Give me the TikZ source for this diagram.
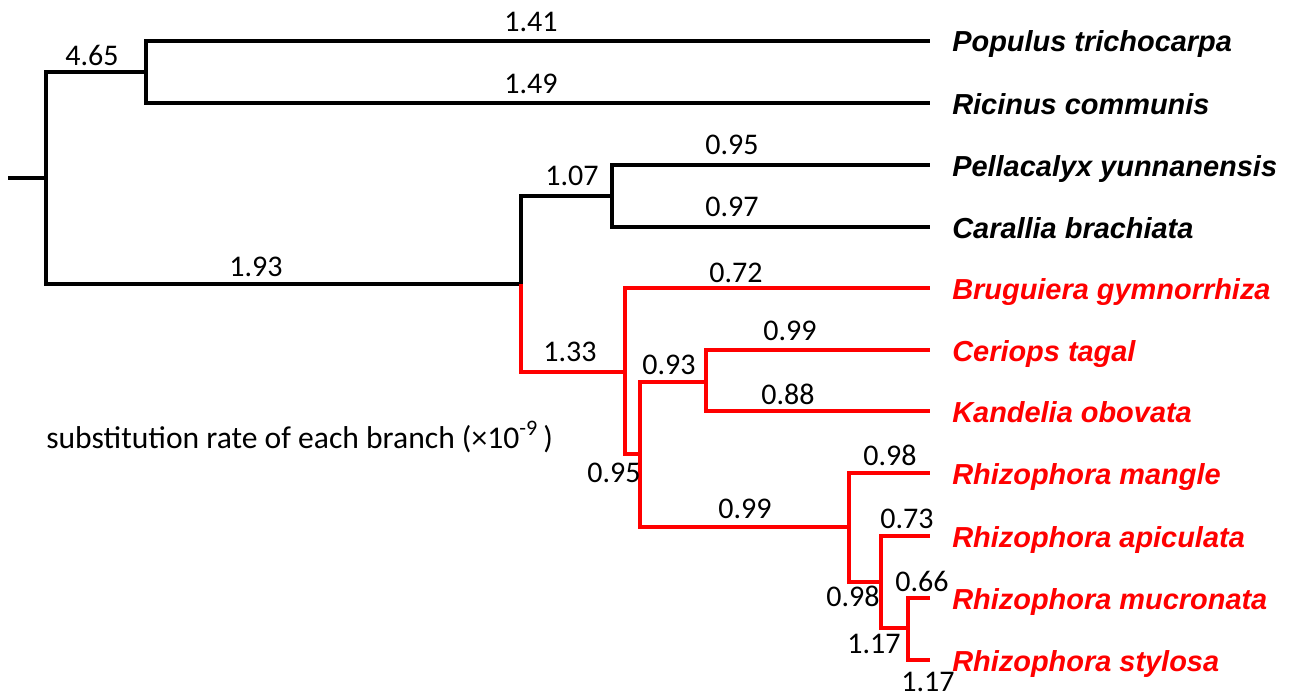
\documentclass[tikz,border=0pt]{standalone}
\usepackage{fontspec}
\newfontfamily\ratefont{Carlito}
\newfontfamily\taxfont{Liberation Sans}
\tikzset{branch/.style={line width=2.4pt, line join=miter},
	taxon/.style={anchor=west, font=\taxfont\bfseries\itshape\fontsize{21.7}{26}\selectfont, inner xsep=16.5pt, inner ysep=0pt, text height=16.5pt, text depth=0pt},
	rate/.style={font=\ratefont\fontsize{22.5}{27}\selectfont, inner sep=0pt, text height=14.2pt, text depth=0pt}}

\begin{document}
\begin{tikzpicture}[x=0.75pt, y=-0.75pt]
	\useasboundingbox (0,0) rectangle (1293,699);
	%Knoten
	\coordinate (stub) at (8,178);
	\coordinate (root) at (46,178);
	\coordinate (pr) at (146,72);
	\coordinate (rh) at (521,284);
	\coordinate (pc) at (612,196);
	\coordinate (mg) at (625,372);
	\coordinate (mk) at (640,454);
	\coordinate (ck) at (706,382);
	\coordinate (rz) at (849,527);
	\coordinate (rab) at (881,582);
	\coordinate (rms) at (908,628);
	%Taxa
	\node[taxon] (ptr) at (930,41) {Populus trichocarpa};
	\node[taxon] (rco) at (930,103) {Ricinus communis};
	\node[taxon] (pyu) at (930,165) {Pellacalyx yunnanensis};
	\node[taxon] (cbr) at (930,227) {Carallia brachiata};
	\node[taxon, red] (bgy) at (930,288) {Bruguiera gymnorrhiza};
	\node[taxon, red] (cta) at (930,350) {Ceriops tagal};
	\node[taxon, red] (kob) at (930,411) {Kandelia obovata};
	\node[taxon, red] (rma) at (930,473) {Rhizophora mangle};
	\node[taxon, red] (rap) at (930,536) {Rhizophora apiculata};
	\node[taxon, red] (rmu) at (930,598) {Rhizophora mucronata};
	\node[taxon, red] (rst) at (930,660) {Rhizophora stylosa};
	%Graph
	\draw[branch] (stub) -- (root);
	\draw[branch] (root) |- (pr);
	\draw[branch] (pr) |- (ptr.west);
	\draw[branch] (pr) |- (rco.west);
	\draw[branch] (root) |- (rh);
	\draw[branch] (rh) |- (pc);
	\draw[branch] (pc) |- (pyu.west);
	\draw[branch] (pc) |- (cbr.west);
	%Mangroven
	\draw[branch, red] (rh) |- (mg);
	\draw[branch, red] (mg) |- (bgy.west);
	\draw[branch, red] (mg) |- (mk);
	\draw[branch, red] (mk) |- (ck);
	\draw[branch, red] (ck) |- (cta.west);
	\draw[branch, red] (ck) |- (kob.west);
	\draw[branch, red] (mk) |- (rz);
	\draw[branch, red] (rz) |- (rma.west);
	\draw[branch, red] (rz) |- (rab);
	\draw[branch, red] (rab) |- (rap.west);
	\draw[branch, red] (rab) |- (rms);
	\draw[branch, red] (rms) |- (rmu.west);
	\draw[branch, red] (rms) |- (rst.west);
	%Raten
	\node[rate] (lpr) at (92,56) {4.65};
	\node[rate] (lptr) at (531,22) {1.41};
	\node[rate] (lrco) at (531,84) {1.49};
	\node[rate] (lrh) at (256,267) {1.93};
	\node[rate] (lpc) at (572,176) {1.07};
	\node[rate] (lpyu) at (732,145) {0.95};
	\node[rate] (lcbr) at (732,207) {0.97};
	\node[rate] (lmg) at (570,352) {1.33};
	\node[rate] (lbgy) at (736,273) {0.72};
	\node[rate] (lmk) at (614,473) {0.95};
	\node[rate] (lck) at (669,365) {0.93};
	\node[rate] (lcta) at (790,331) {0.99};
	\node[rate] (lkob) at (788,395) {0.88};
	\node[rate] (lrz) at (745,509) {0.99};
	\node[rate] (lrma) at (890,456) {0.98};
	\node[rate] (lrab) at (853,597) {0.98};
	\node[rate] (lrap) at (907,519) {0.73};
	\node[rate] (lrms) at (874,644) {1.17};
	\node[rate] (lrmu) at (922,582) {0.66};
	\node[rate] (lrst) at (928,682) {1.17};
	%Legende
	\node[anchor=base west, inner sep=0pt, font=\ratefont\fontsize{23.7}{28}\selectfont] (legend) at (46,448) {substitution rate of each branch (\texttimes10\textsuperscript{-9}\,)};
\end{tikzpicture}
\end{document}
